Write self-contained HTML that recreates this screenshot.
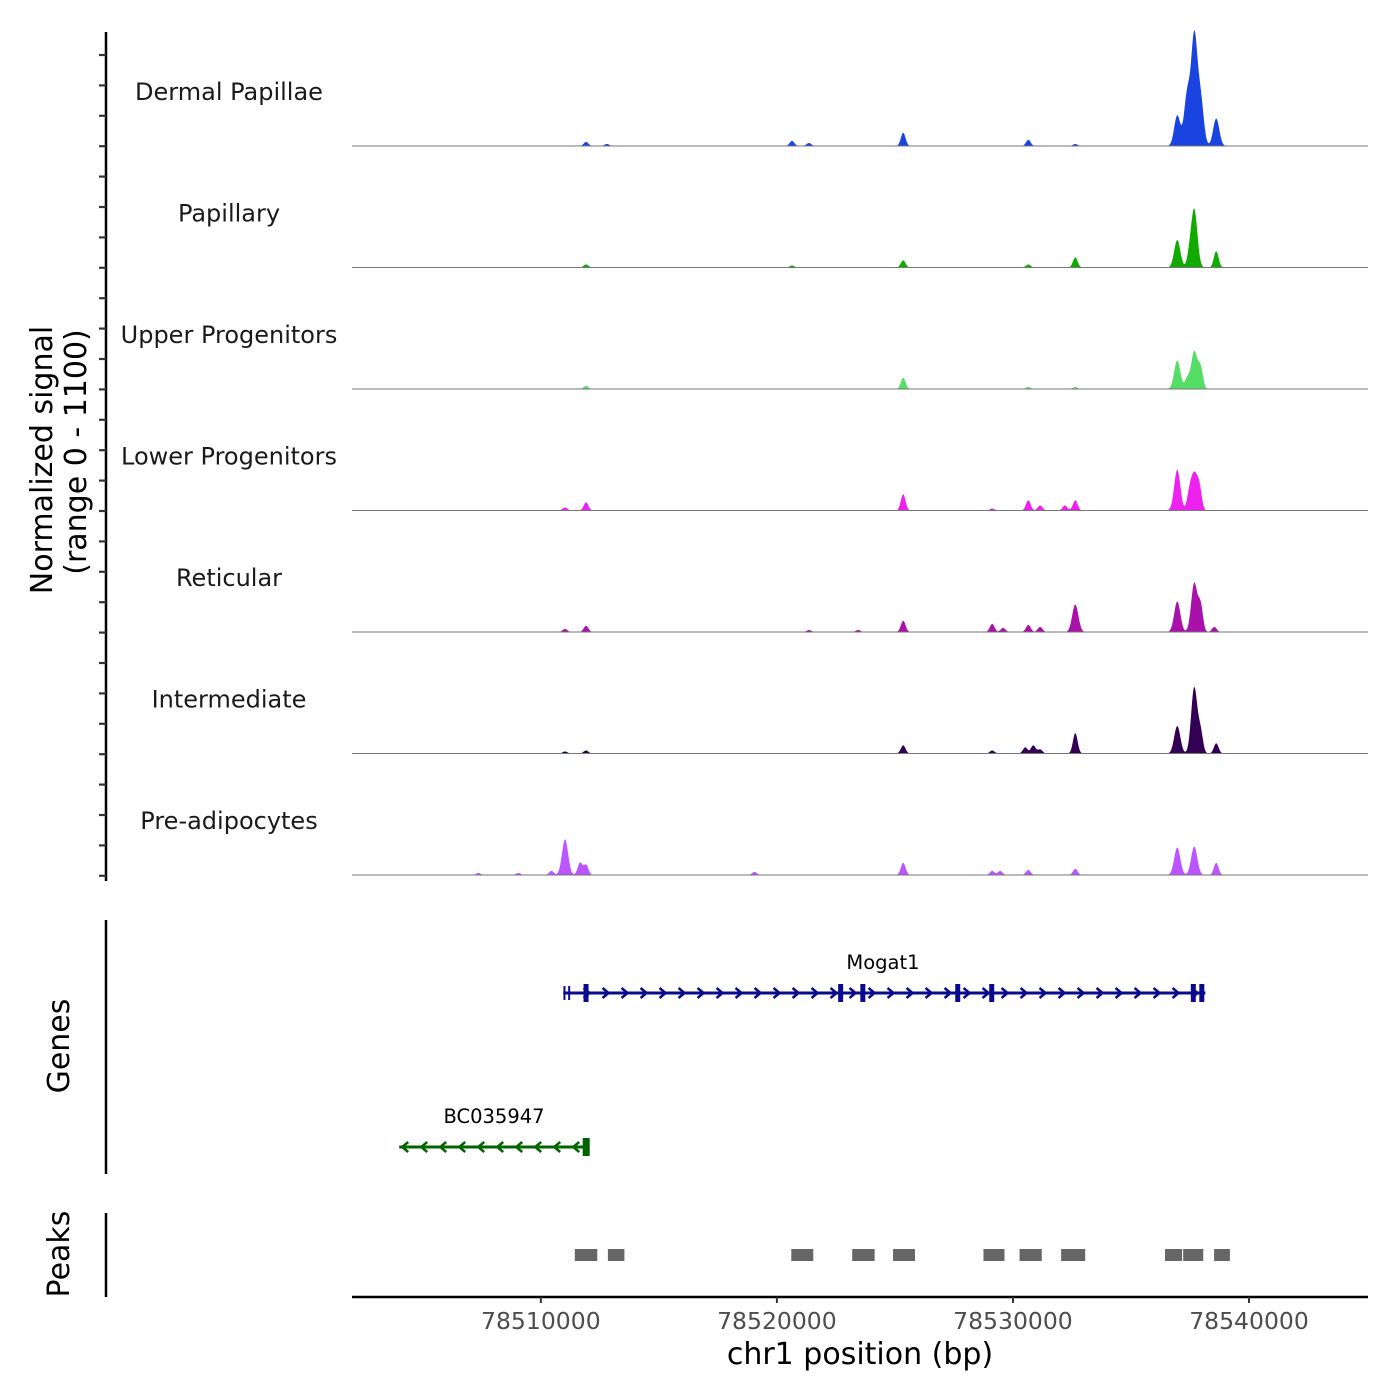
<!DOCTYPE html>
<html><head><meta charset="utf-8"><style>
body{margin:0;background:#fff}
svg{display:block;font-family:"DejaVu Sans","Liberation Sans",sans-serif}
</style></head><body>
<svg id="chart" width="1400" height="1400" viewBox="0 0 1400 1400" xmlns="http://www.w3.org/2000/svg">
<g id="tracks"></g>
<g id="axes"></g>
<g id="genes"></g>
<g id="peaks"></g>
</svg>
<script>
const regionStart = 78502000, regionEnd = 78545040;
const trackNames = ["Dermal Papillae","Papillary","Upper Progenitors","Lower Progenitors","Reticular","Intermediate","Pre-adipocytes"];
const trackColors = ["#1a44e0","#11aa00","#55dd66","#ee22ee","#aa11aa","#330055","#bb55ff"];
const peakPos = [
 [78511915,78512800,78520640,78521360,78525350,78530650,78532640,78536960,78537380,78537680,78537950,78538610],
 [78511915,78520640,78525350,78530650,78532640,78536960,78537470,78537680,78538610],
 [78511915,78525350,78530650,78532640,78536960,78537380,78537680,78537950],
 [78511025,78511915,78525350,78529120,78530650,78531150,78532200,78532640,78536960,78537470,78537680,78537900],
 [78511025,78511915,78521360,78523440,78525350,78529120,78529580,78530650,78531150,78532640,78536960,78537680,78537950,78538530],
 [78511025,78511915,78525350,78529120,78530520,78530860,78531150,78532640,78536960,78537680,78537950,78538610],
 [78507350,78509050,78510450,78511025,78511660,78511915,78519050,78525350,78529120,78529460,78530650,78532640,78536960,78537680,78538610]
];
const peakVal = [
 [40,20,50,30,130,60,20,300,500,1050,450,270],
 [30,20,70,30,100,270,100,570,160],
 [30,110,20,20,280,100,370,200],
 [30,80,160,20,100,50,50,100,400,150,350,200],
 [30,60,20,20,110,80,40,70,50,270,300,480,250,50],
 [20,30,80,30,60,80,40,200,270,650,200,100],
 [20,20,40,350,120,100,30,120,40,40,50,60,270,280,120]
];
const tickVals = [78510000,78520000,78530000,78540000];
const mogat1Exons = [78511000,78511200,78511915,78522700,78523640,78527660,78529100,78537640,78538000];
const peakStarts = [78511440,78512840,78520610,78523190,78524920,78528750,78530280,78532040,78536440,78537210,78538520];
const peakEnds = [78512390,78513540,78521540,78524140,78525850,78529640,78531220,78533060,78537160,78538060,78539190];

const NS='http://www.w3.org/2000/svg';
const X0=352,X1=1368;
function xs(bp){return X0+(bp-regionStart)/(regionEnd-regionStart)*(X1-X0);}
function ys(v,base){return base-v/1100*112;}
function mk(tag,attrs,parent){const e=document.createElementNS(NS,tag);for(const k in attrs)e.setAttribute(k,attrs[k]);parent.appendChild(e);return e;}
const tg=document.getElementById('tracks');
trackNames.forEach((nm,i)=>{
  const base=146+i*121.5;
  let d='M'+X0+','+base;
  for(let px=X0;px<=X1;px+=0.5){
    const bp=regionStart+(px-X0)/(X1-X0)*(regionEnd-regionStart);
    let v=0;
    peakPos[i].forEach((p,j)=>{const s=peakVal[i][j]>250?130:100;v+=peakVal[i][j]*Math.exp(-((bp-p)*(bp-p))/(2*s*s));});
    d+='L'+px+','+ys(v,base).toFixed(2);
  }
  d+='L'+X1+','+base+'Z';
  const p=mk('path',{d:d,fill:trackColors[i]},tg);
  
  
  const l=mk('line',{x1:X0,x2:X1,y1:base,y2:base,stroke:'#777','stroke-width':1},tg);
  
  
  const t=mk('text',{x:229,y:base-46,'text-anchor':'middle','font-size':24,fill:'#1a1a1a'},tg);
  t.textContent=nm;
  
  
});
const ag=document.getElementById('axes');
mk('line',{x1:106,x2:106,y1:32,y2:881,stroke:'#000','stroke-width':2.5},ag);
for(let y=55;y<=880;y+=30.4){mk('line',{x1:99,x2:106,y1:y,y2:y,stroke:'#333','stroke-width':2.2},ag);}
mk('line',{x1:106,x2:106,y1:920,y2:1174,stroke:'#000','stroke-width':2.5},ag);
mk('line',{x1:106,x2:106,y1:1213,y2:1297,stroke:'#000','stroke-width':2.5},ag);
mk('line',{x1:X0,x2:X1,y1:1297,y2:1297,stroke:'#000','stroke-width':2.5},ag);
tickVals.forEach(v=>{
  mk('line',{x1:xs(v),x2:xs(v),y1:1297,y2:1303,stroke:'#333','stroke-width':2},ag);
  const t=mk('text',{x:xs(v),y:1329,'text-anchor':'middle','font-size':23.5,fill:'#4d4d4d'},ag);
  t.textContent=v;
  
  
});
function txt(s,attrs,name){const t=mk('text',attrs,ag);t.textContent=s;}
txt('chr1 position (bp)',{x:860,y:1364,'text-anchor':'middle','font-size':30,fill:'#000'},'x-axis-title');
txt('Normalized signal',{x:0,y:0,transform:'translate(52,460) rotate(-90)','text-anchor':'middle','font-size':30,fill:'#000'},'y-axis-title');
txt('(range 0 - 1100)',{x:0,y:0,transform:'translate(86,452) rotate(-90)','text-anchor':'middle','font-size':30,fill:'#000'},'y-axis-range');
txt('Genes',{x:0,y:0,transform:'translate(69,1046) rotate(-90)','text-anchor':'middle','font-size':30,fill:'#000'},'genes-axis-title');
txt('Peaks',{x:0,y:0,transform:'translate(69,1254) rotate(-90)','text-anchor':'middle','font-size':30,fill:'#000'},'peaks-axis-title');

const gg=document.getElementById('genes');
const c1='#0a0a8c', y1=993;
mk('line',{x1:xs(78510950),x2:xs(78538150),y1:y1,y2:y1,stroke:c1,'stroke-width':3},gg);
for(let x=xs(78511300)+16;x<xs(78538000)-4;x+=19){mk('polyline',{points:(x-4)+','+(y1-5)+' '+(x+2)+','+y1+' '+(x-4)+','+(y1+5),fill:'none',stroke:c1,'stroke-width':2.5},gg);}
mogat1Exons.forEach((e,k)=>{const w=k<2?2:5;const h=k<2?14:18;mk('rect',{x:xs(e)-w/2,y:y1-h/2,width:w,height:h,fill:c1},gg);});
const g1=mk('text',{x:883,y:969,'text-anchor':'middle','font-size':19.5,fill:'#000'},gg);g1.textContent='Mogat1';


const c2='#006400', y2=1147;
mk('line',{x1:xs(78504000),x2:xs(78512000),y1:y2,y2:y2,stroke:c2,'stroke-width':3},gg);
for(let x=xs(78504000)+4;x<xs(78512000)-6;x+=19){mk('polyline',{points:(x+5)+','+(y2-5)+' '+(x-1)+','+y2+' '+(x+5)+','+(y2+5),fill:'none',stroke:c2,'stroke-width':2.5},gg);}
mk('rect',{x:xs(78511900)-3,y:y2-9,width:7,height:18,fill:c2},gg);
const g2=mk('text',{x:494,y:1123,'text-anchor':'middle','font-size':19.5,fill:'#000'},gg);g2.textContent='BC035947';



const pg=document.getElementById('peaks');
peakStarts.forEach((s,i)=>{
  const r=mk('rect',{x:xs(s),y:1249,width:xs(peakEnds[i])-xs(s),height:12,fill:'#666'},pg);
  
  
});
</script>
</body></html>
